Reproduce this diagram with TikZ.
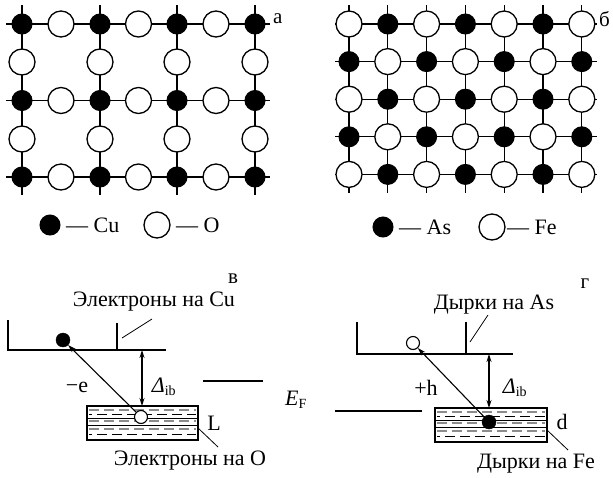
\documentclass[tikz,border=0pt]{standalone}
\usepackage{fontspec}
\setmainfont{Liberation Serif}
\usetikzlibrary{arrows.meta}
\begin{document}
\begin{tikzpicture}[x=1pt,y=-1pt,
  grid/.style={line width=1.2pt},
  blk/.style={circle,fill=black,draw=black,line width=1pt,minimum size=20pt,inner sep=0pt},
  wht/.style={circle,fill=white,draw=black,line width=1.3pt,minimum size=26pt,inner sep=0pt},
  sblk/.style={circle,fill=black,draw=black,minimum size=14pt,inner sep=0pt},
  swht/.style={circle,fill=white,draw=black,line width=1.1pt,minimum size=13pt,inner sep=0pt},
  txt/.style={font=\fontsize{22}{26}\selectfont,inner sep=0pt},
  lbl/.style={font=\fontsize{21}{24}\selectfont,inner sep=0pt},
  thin/.style={line width=1.1pt},
  thickl/.style={line width=2.6pt},
  lead/.style={line width=0.8pt},
  arr/.style={line width=1.1pt,-{Stealth[length=8pt,width=5pt]}},
  darr/.style={line width=1.1pt,{Stealth[length=8pt,width=5pt]}-{Stealth[length=8pt,width=5pt]}},
  gdash/.style={draw=black!45,line width=1.4pt,dash pattern=on 10pt off 5pt},
  bdash/.style={draw=black,line width=1pt,dash pattern=on 10pt off 5pt},
  bsol/.style={draw=black,line width=0.8pt}]
\useasboundingbox (0,0) rectangle (613,477);

% ---------- panel a ----------
\foreach \y in {24,100.5,177} \draw[grid] (6,\y) -- (270,\y);
\foreach \x in {22,100,177,255} \draw[grid] (\x,5) -- (\x,195);
\foreach \x [count=\i] in {22,100,177,255}
  \foreach \y [count=\j] in {24,100.5,177}
    \node[blk] (a-b-\i-\j) at (\x,\y) {};
\foreach \x [count=\i] in {61,138.5,216}
  \foreach \y [count=\j] in {24,100.5,177}
    \node[wht] (a-h-\i-\j) at (\x,\y) {};
\foreach \x [count=\i] in {22,100,177,255}
  \foreach \y [count=\j] in {62,139}
    \node[wht] (a-v-\i-\j) at (\x,\y) {};
\node[lbl,anchor=west] (la) at (273,19) {а};

% ---------- panel b ----------
\foreach \j in {0,...,4} \draw[grid] (335,24+37.6*\j) -- (597,24+37.6*\j);
\foreach \i in {0,...,6} \draw[grid] (349+38.8*\i,5) -- (349+38.8*\i,193);
\foreach \i in {0,...,6}
  \foreach \j in {0,...,4} {
    \pgfmathparse{int(mod(\i+\j,2))}
    \ifnum\pgfmathresult=0
      \node[wht] (b-\i-\j) at (349+38.8*\i,24+37.6*\j) {};
    \else
      \node[blk] (b-\i-\j) at (349+38.8*\i,24+37.6*\j) {};
    \fi
  }
\node[lbl,anchor=west] (lb) at (599,19) {б};

% ---------- legends ----------
\node[blk] (lgcu) at (50,225) {};
\node[txt,anchor=west] (tcu) at (66,225) {— Cu};
\node[wht] (lgo) at (157,225) {};
\node[txt,anchor=west] (to) at (176,225) {— O};
\node[blk] (lgas) at (383,227) {};
\node[txt,anchor=west] (tas) at (399,227) {— As};
\node[wht] (lgfe) at (492,227) {};
\node[txt,anchor=west] (tfe) at (507,227) {— Fe};

% ---------- panel v ----------
\node[lbl] (lv) at (233,279) {в};
\node[txt] (tecu) at (154,302) {Электроны на Cu};
\draw[thin] (8,320) -- (8,350);
\draw[thickl] (7,350) -- (117,350);
\draw[thin] (117,350) -- (166,350);
\draw[thin] (117,323) -- (117,350);
\coordinate (lv1) at (122,338);
\coordinate (lv2) at (152,319);
\draw[lead] (lv1) -- (lv2);
% box L
\foreach \o in {4,15,23} \draw[gdash] (89,406+\o) -- (196,406+\o);
\foreach \o in {8.5,28.5} \draw[bdash,dash phase=7pt] (89,406+\o) -- (196,406+\o);
\foreach \o in {12,19} \draw[bsol] (88,406+\o) -- (197,406+\o);
\draw[thin] (87,406) rectangle (198,440);
\draw[line width=2pt] (87,406) -- (198,406);
\node[sblk] (ev) at (63,340) {};
\node[swht] (hv) at (141,417) {};
\draw[arr] (hv) -- (ev);
\coordinate (dv1) at (142,350);
\coordinate (dv2) at (142,406);
\draw[darr] (dv1) -- (dv2);
\node[txt] (dlv) at (164,387) {{\itshape Δ}\textsubscript{\fontsize{14}{15}\selectfont ib}};
\node[txt] (me) at (77,387) {−e};
\coordinate (efl1) at (203,381);
\coordinate (efl2) at (263,381);
\draw[thin] (efl1) -- (efl2);
\node[txt] (ef) at (296,400) {{\itshape E}\textsubscript{\fontsize{14}{15}\selectfont F}};
\node[txt] (tl) at (214,423) {L};
\coordinate (ll1) at (198,428);
\coordinate (ll2) at (218,447);
\draw[lead] (ll1) -- (ll2);
\node[txt] (teo) at (190,461) {Электроны на O};

% ---------- panel g ----------
\node[lbl] (lg) at (585,284) {г};
\node[txt] (tdas) at (494,305) {Дырки на As};
\draw[thin] (357,322) -- (357,354);
\draw[thickl] (356,354) -- (466,354);
\draw[thin] (466,354) -- (513,354);
\draw[thin] (466,322) -- (466,354);
\coordinate (lg1) at (470,342);
\coordinate (lg2) at (488,315);
\draw[lead] (lg1) -- (lg2);
% box d
\foreach \o in {4,15,23} \draw[gdash] (437,408+\o) -- (545,408+\o);
\foreach \o in {8.5,28.5} \draw[bdash,dash phase=7pt] (437,408+\o) -- (545,408+\o);
\foreach \o in {12,19} \draw[bsol] (436,408+\o) -- (546,408+\o);
\draw[thin] (435,408) rectangle (547,442);
\draw[line width=2pt] (435,408) -- (547,408);
\node[swht] (hg) at (413,343) {};
\node[sblk] (eg) at (489,422) {};
\draw[arr] (eg) -- (hg);
\coordinate (dg1) at (489,354);
\coordinate (dg2) at (489,408);
\draw[darr] (dg1) -- (dg2);
\node[txt] (ph) at (426,388) {+h};
\node[txt] (dlg) at (515,388) {{\itshape Δ}\textsubscript{\fontsize{14}{15}\selectfont ib}};
\coordinate (efr1) at (335,411);
\coordinate (efr2) at (422,411);
\draw[thin] (efr1) -- (efr2);
\node[txt] (td) at (562,422) {d};
\coordinate (ld1) at (547,430);
\coordinate (ld2) at (568,450);
\draw[lead] (ld1) -- (ld2);
\node[txt] (tdfe) at (536,464) {Дырки на Fe};
\end{tikzpicture}
\end{document}
